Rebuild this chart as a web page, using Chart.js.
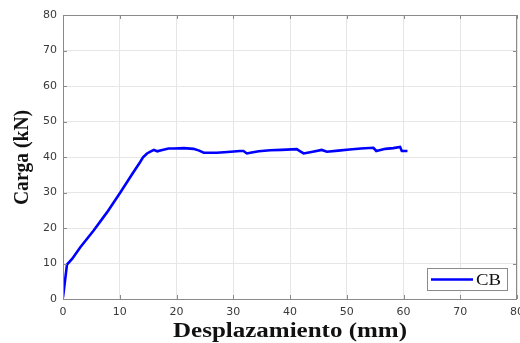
<!DOCTYPE html>
<html><head><meta charset="utf-8">
<script src="https://cdn.jsdelivr.net/npm/chart.js@4.4.1/dist/chart.umd.min.js"></script>
<style>html,body{margin:0;padding:0;background:#fff}#wrap{width:520px;height:343px;position:relative}</style>
</head><body><div id="wrap"><canvas id="c" width="520" height="343"></canvas></div>
<script>
const seriesLabel = "CB";
const dispX = [0, 0.7, 1.6, 3.05, 5.4, 7.75, 10.1, 12.2, 13.6, 14.1, 14.8, 15.4, 16.0, 16.6, 17.5, 18.6, 19.5, 21.3, 23.0, 24.0, 24.8, 27.1, 29.0, 31.2, 31.8, 32.4, 33.0, 34.5, 36.5, 38.5, 41.2, 41.8, 42.4, 44.0, 45.6, 46.5, 48.5, 50.5, 52.5, 54.7, 55.2, 56.8, 58.2, 59.4, 59.7, 60.7];
const loadKN = [0.5, 9.7, 11.3, 14.6, 19.3, 24.4, 30.0, 35.2, 38.6, 39.9, 41.0, 41.5, 42.0, 41.6, 42.0, 42.4, 42.4, 42.5, 42.3, 41.8, 41.2, 41.2, 41.4, 41.7, 41.7, 41.0, 41.2, 41.6, 41.9, 42.0, 42.2, 41.6, 41.0, 41.5, 42.0, 41.5, 41.8, 42.1, 42.4, 42.6, 41.7, 42.3, 42.5, 42.8, 41.7, 41.7];
const xTicks = [0, 10, 20, 30, 40, 50, 60, 70, 80];
const yTicks = [0, 10, 20, 30, 40, 50, 60, 70, 80];
const xTitle = "Desplazamiento (mm)";
const yTitle = "Carga (kN)";

const AREA = {left: 63, right: 517, top: 15, bottom: 299};

function stretchedText(ctx, text, font, cx, cy, targetW, rot) {
  ctx.save();
  ctx.font = font;
  const w = ctx.measureText(text).width;
  ctx.translate(cx, cy);
  if (rot) ctx.rotate(rot);
  ctx.scale(targetW / w, 1);
  ctx.textAlign = 'center';
  ctx.textBaseline = 'alphabetic';
  ctx.fillText(text, 0, 0);
  ctx.restore();
}

const framePlugin = {
  id: 'frame',
  afterDatasetsDraw(chart) {
    const {ctx, chartArea: a, scales} = chart;
    ctx.save();
    ctx.strokeStyle = '#8a8a8a';
    ctx.lineWidth = 1;
    ctx.strokeRect(Math.round(a.left) + 0.5, Math.round(a.top) + 0.5, Math.round(a.right - a.left) - 1, Math.round(a.bottom - a.top));
    ctx.beginPath();
    xTicks.forEach(v => {
      const px = Math.round(scales.x.getPixelForValue(v)) + 0.5;
      ctx.moveTo(px, a.top); ctx.lineTo(px, a.top + 4);
      ctx.moveTo(px, a.bottom); ctx.lineTo(px, a.bottom - 4);
    });
    yTicks.forEach(v => {
      const py = Math.round(scales.y.getPixelForValue(v)) + 0.5;
      ctx.moveTo(a.left, py); ctx.lineTo(a.left + 4, py);
      ctx.moveTo(a.right, py); ctx.lineTo(a.right - 4, py);
    });
    ctx.stroke();
    // legend box inside chart area
    const bx = 427, by = 268, bw = 80, bh = 22;
    ctx.fillStyle = '#fff';
    ctx.fillRect(bx, by, bw, bh);
    ctx.strokeStyle = '#8a8a8a';
    ctx.strokeRect(bx + 0.5, by + 0.5, bw, bh);
    ctx.strokeStyle = '#0000ff';
    ctx.lineWidth = 2.5;
    ctx.beginPath(); ctx.moveTo(bx + 4, by + 11.5); ctx.lineTo(bx + 46, by + 11.5); ctx.stroke();
    ctx.fillStyle = '#111';
    stretchedText(ctx, chart.data.datasets[0].label, '16px "Liberation Serif"', bx + 61.5, by + 17, 25, 0);
    // axis titles
    const tf = 'bold 20px "Liberation Serif"';
    stretchedText(ctx, xTitle, tf, (a.left + a.right) / 2, 336.5, 234, 0);
    stretchedText(ctx, yTitle, tf, 28, 157.5, 95, -Math.PI / 2);
    ctx.restore();
  }
};

new Chart(document.getElementById('c'), {
  type: 'scatter',
  data: {
    datasets: [{
      label: seriesLabel,
      data: dispX.map((x, i) => ({x, y: loadKN[i]})),
      showLine: true,
      borderColor: '#0000ff',
      backgroundColor: '#0000ff',
      borderWidth: 2.6,
      pointRadius: 0,
      tension: 0
    }]
  },
  options: {
    responsive: false,
    animation: false,
    layout: {padding: {left: 0, right: 3, top: 15, bottom: 0}},
    plugins: {legend: {display: false}, tooltip: {enabled: false}},
    scales: {
      x: {
        type: 'linear', min: 0, max: 80,
        afterBuildTicks(s) { s.ticks = xTicks.map(v => ({value: v})); },
        afterFit(s) { s.height = 343 - AREA.bottom; s.paddingLeft = 0; s.paddingRight = 0; },
        grid: {color: '#e6e6e6', drawTicks: false},
        border: {display: false},
        ticks: {color: '#3a3a3a', font: {family: '"DejaVu Sans"', size: 11}, padding: 7, maxRotation: 0, autoSkip: false},
        title: {display: false}
      },
      y: {
        type: 'linear', min: 0, max: 80,
        afterBuildTicks(s) { s.ticks = yTicks.map(v => ({value: v})); },
        afterFit(s) { s.width = AREA.left; s.paddingTop = 0; s.paddingBottom = 0; },
        grid: {color: '#e6e6e6', drawTicks: false},
        border: {display: false},
        ticks: {color: '#3a3a3a', font: {family: '"DejaVu Sans"', size: 11}, padding: 6, autoSkip: false},
        title: {display: false}
      }
    }
  },
  plugins: [framePlugin]
});
</script></body></html>
